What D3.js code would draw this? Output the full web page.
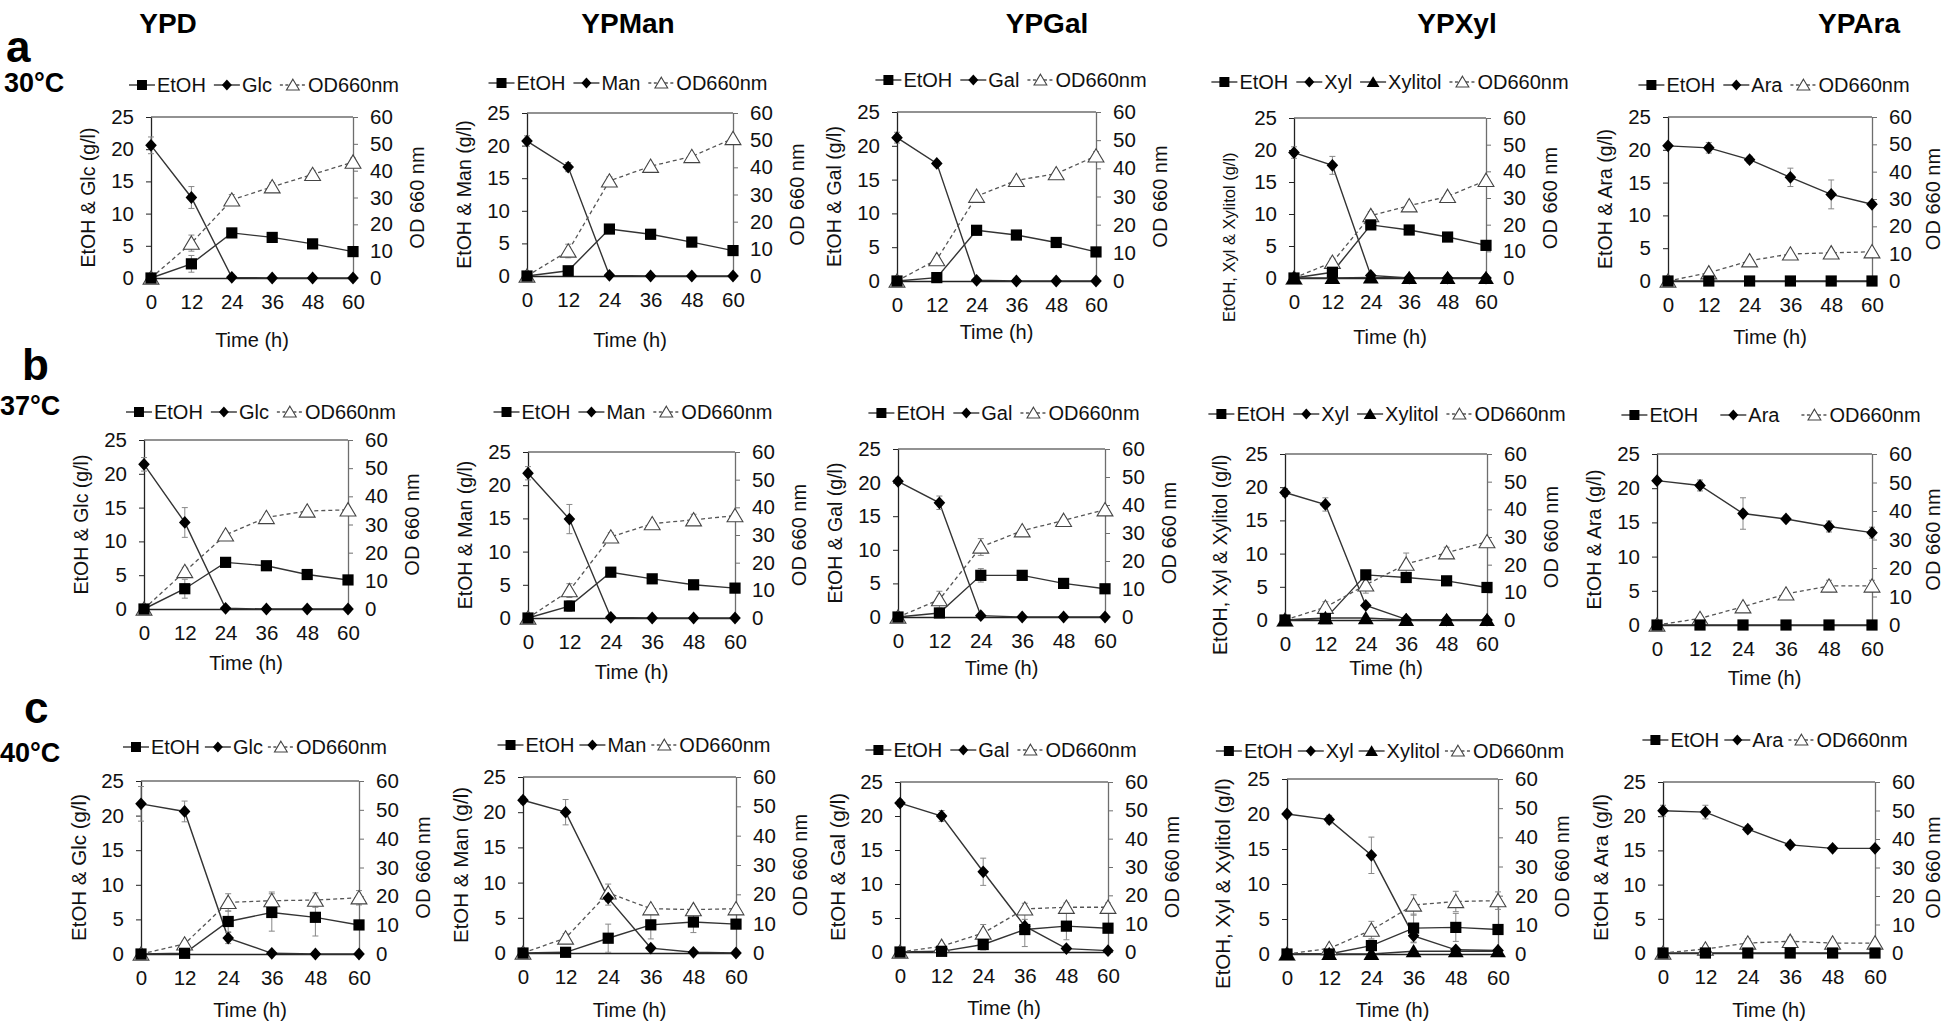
<!DOCTYPE html>
<html>
<head>
<meta charset="utf-8">
<script src="https://cdn.jsdelivr.net/npm/d3@7"></script>
<style>
  body { margin: 0; background: #fff; }
  svg text { font-family: "Liberation Sans", Arial, Helvetica, sans-serif; }
</style>
</head>
<body>
<svg id="chart" width="1946" height="1023"></svg>
<script>
// ---------------- DATA ----------------
const timePoints = [0, 12, 24, 36, 48, 60];
const leftTicks = [0, 5, 10, 15, 20, 25];
const rightTicks = [0, 10, 20, 30, 40, 50, 60];
const mediaHeaders = ["YPD", "YPMan", "YPGal", "YPXyl", "YPAra"];
const sugarNames = ["Glc", "Man", "Gal", "Xyl", "Ara"];
const rowLetters = ["a", "b", "c"];
const rowTemps = ["30°C", "37°C", "40°C"];

// 30 °C  (columns: YPD, YPMan, YPGal, YPXyl, YPAra)
const etoh30 = [
  [0, 2.2, 7.0, 6.3, 5.3, 4.1],
  [0, 0.8, 7.2, 6.4, 5.2, 3.9],
  [0, 0.5, 7.5, 6.8, 5.7, 4.3],
  [0, 0.9, 8.3, 7.5, 6.4, 5.1],
  [0, 0, 0, 0, 0, 0]
];
const sugar30 = [
  [20.6, 12.5, 0.1, 0, 0, 0],
  [20.7, 16.7, 0.1, 0, 0, 0],
  [21.2, 17.4, 0.1, 0, 0, 0],
  [19.6, 17.6, 0.4, 0, 0, 0],
  [20.6, 20.3, 18.5, 15.8, 13.2, 11.7]
];
const xylitol30 = [0, 0, 0.1, 0, 0, 0];
const od30 = [
  [0, 13.0, 29.1, 34.0, 38.6, 43.2],
  [0, 9.2, 35.0, 40.4, 44.0, 50.6],
  [0, 7.6, 30.1, 35.7, 38.1, 44.4],
  [0, 5.9, 23.4, 27.1, 30.6, 36.6],
  [0, 3.0, 7.4, 9.9, 10.3, 10.7]
];
const etoh30Err = [
  [0, 1.3, 0.3, 0.3, 0.3, 0.2],
  [0, 0.3, 0.3, 0.3, 0.3, 0.2],
  [0, 0.2, 0.3, 0.3, 0.3, 0.3],
  [0, 0.3, 0.4, 0.3, 0.3, 0.3],
  [0, 0, 0, 0, 0, 0]
];
const sugar30Err = [
  [1.3, 1.7, 0, 0, 0, 0],
  [0.8, 0.7, 0, 0, 0, 0],
  [0.8, 0.4, 0, 0, 0, 0],
  [0.9, 1.4, 0, 0, 0, 0],
  [0.3, 0.8, 0.5, 1.4, 2.2, 0.4]
];
const od30Err = [
  [0, 3.0, 2.0, 1.5, 1.5, 1.5],
  [0, 2.5, 1.5, 1.0, 1.0, 1.0],
  [0, 1.0, 1.0, 1.0, 1.0, 1.5],
  [0, 1.5, 1.5, 1.0, 1.0, 1.0],
  [0, 0.5, 0.5, 0.5, 0.5, 0.5]
];

// 37 °C
const etoh37 = [
  [0, 3.0, 6.9, 6.4, 5.1, 4.3],
  [0, 1.8, 6.9, 5.9, 5.0, 4.5],
  [0, 0.6, 6.2, 6.2, 5.0, 4.2],
  [0, 0.2, 6.8, 6.4, 5.9, 4.9],
  [0, 0, 0, 0, 0, 0]
];
const sugar37 = [
  [21.4, 12.8, 0.1, 0, 0, 0],
  [21.8, 14.9, 0.1, 0, 0, 0],
  [20.2, 17.0, 0.2, 0, 0, 0],
  [19.2, 17.4, 2.2, 0.1, 0, 0],
  [21.1, 20.4, 16.3, 15.5, 14.4, 13.5]
];
const xylitol37 = [0, 0.3, 0.3, 0, 0, 0];
const od37 = [
  [0, 13.3, 26.3, 32.5, 34.8, 35.2],
  [0, 9.9, 29.3, 34.1, 35.5, 37.0],
  [0, 6.2, 25.0, 30.8, 34.5, 38.3],
  [0, 4.6, 12.7, 20.2, 24.3, 28.3],
  [0, 2.3, 6.4, 10.9, 13.7, 13.7]
];
const etoh37Err = [
  [0, 1.4, 0.3, 0.3, 0.3, 0.3],
  [0, 0.8, 0.3, 0.3, 0.3, 0.3],
  [0, 0.3, 1.0, 0.3, 0.3, 0.3],
  [0, 0.2, 0.5, 0.6, 0.3, 0.3],
  [0, 0, 0, 0, 0, 0]
];
const sugar37Err = [
  [1.0, 2.2, 0, 0, 0, 0],
  [1.0, 2.2, 0, 0, 0, 0],
  [0.5, 1.0, 0, 0, 0, 0],
  [0.6, 1.0, 0.3, 0, 0, 0],
  [0.3, 0.8, 2.3, 0.4, 0.8, 0.8]
];
const od37Err = [
  [0, 1.5, 1.0, 1.0, 1.0, 1.0],
  [0, 2.5, 1.5, 1.0, 2.0, 1.0],
  [0, 3.0, 3.0, 1.0, 1.0, 1.0],
  [0, 2.0, 3.0, 4.0, 2.0, 1.0],
  [0, 0.5, 1.0, 1.0, 2.0, 2.0]
];

// 40 °C
const etoh40 = [
  [0, 0.1, 4.7, 6.0, 5.3, 4.2],
  [0, 0.1, 2.1, 4.0, 4.4, 4.1],
  [0, 0.1, 1.1, 3.3, 3.8, 3.5],
  [0, 0, 1.2, 3.7, 3.8, 3.5],
  [0, 0, 0, 0, 0, 0]
];
const sugar40 = [
  [21.7, 20.6, 2.3, 0.1, 0, 0],
  [21.7, 20.0, 7.8, 0.7, 0.1, 0],
  [21.9, 20.0, 11.8, 3.8, 0.5, 0.2],
  [20.0, 19.2, 14.1, 2.6, 0.6, 0.5],
  [20.8, 20.6, 18.1, 15.8, 15.3, 15.3]
];
const xylitol40 = [0, 0, 0, 0.4, 0.4, 0.4];
const od40 = [
  [0, 3.5, 17.9, 18.5, 18.7, 19.5],
  [0, 5.1, 20.5, 15.1, 14.8, 15.1],
  [0, 2.0, 6.7, 15.2, 15.8, 15.8],
  [0, 1.9, 8.2, 16.8, 18.0, 18.3],
  [0, 1.4, 3.5, 4.1, 3.5, 3.5]
];
const etoh40Err = [
  [0, 0.2, 1.5, 2.7, 2.7, 0.6],
  [0, 0.2, 2.0, 2.0, 1.5, 0.6],
  [0, 0.2, 0.8, 2.5, 2.0, 0.5],
  [0, 0, 0.8, 2.0, 2.0, 0.5],
  [0, 0, 0, 0, 0, 0]
];
const sugar40Err = [
  [2.5, 1.5, 0.8, 0, 0, 0],
  [0.5, 1.8, 1.0, 0.3, 0, 0],
  [0.5, 0.8, 2.0, 1.0, 0.3, 0],
  [0.4, 0.6, 2.6, 1.0, 0.3, 0.3],
  [0.8, 1.0, 0.5, 0.4, 0.4, 0.4]
];
const od40Err = [
  [0, 1.0, 3.0, 3.0, 2.5, 2.5],
  [0, 1.5, 3.0, 1.0, 1.0, 1.0],
  [0, 1.0, 3.0, 2.0, 1.5, 1.5],
  [0, 1.0, 3.0, 3.5, 3.5, 3.0],
  [0, 0.5, 1.5, 1.5, 1.0, 1.0]
];

// ---------------- LAYOUT ----------------
const plotBoxes = [
  [[151,117,353,278],[527,113,733,276],[897,112,1096,281],[1294,118,1486,278],[1668,117,1872,281]],
  [[144,440,348,609],[528,452,735,618],[898,449,1105,617],[1285,454,1487,620],[1657,454,1872,625]],
  [[141,781,359,954],[523,777,736,953],[900,782,1108,952],[1287,779,1498,954],[1663,782,1875,953]]
];
const legendPos = [
  [[264,85],[628,83],[1011,80],[1390,82],[1774,85]],
  [[261,412],[633,412],[1004,413],[1387,414],[1771,415]],
  [[255,747],[634,745],[1001,750],[1390,751],[1775,740]]
];
const legendGaps = [[8,8,8,8,8],[8,8,8,8,22],[5,5,8,5,5]];
const timeTitleY = [[340,340,332,337,337],[663,672,668,668,678],[1010,1010,1008,1010,1010]];
const headerX = [168, 628, 1047, 1457, 1859];

const rowsData = [
  {etoh: etoh30, sugar: sugar30, xylitol: xylitol30, od: od30, etohErr: etoh30Err, sugarErr: sugar30Err, odErr: od30Err},
  {etoh: etoh37, sugar: sugar37, xylitol: xylitol37, od: od37, etohErr: etoh37Err, sugarErr: sugar37Err, odErr: od37Err},
  {etoh: etoh40, sugar: sugar40, xylitol: xylitol40, od: od40, etohErr: etoh40Err, sugarErr: sugar40Err, odErr: od40Err}
];

// ---------------- DRAW ----------------
const svg = d3.select("#chart");
svg.append("rect").attr("width", 1946).attr("height", 1023).attr("fill", "#fff");

function markerPath(type, s) {
  if (type === "square") return `M${-s},${-s}H${s}V${s}H${-s}Z`;
  if (type === "diamond") return `M0,${-s * 1.1}L${s},0L0,${s * 1.1}L${-s},0Z`;
  return `M0,${-s}L${s * 1.1},${s * 0.85}L${-s * 1.1},${s * 0.85}Z`;
}
function markerSize(type) {
  if (type === "square") return 5.6;
  if (type === "diamond") return 5.8;
  return 7.2;
}
function styleMarker(sel, type) {
  if (type === "triOpen") sel.attr("fill", "#fff").attr("stroke", "#444").attr("stroke-width", 1.1);
  else sel.attr("fill", "#000").attr("stroke", "none");
}

function drawPanel(r, c) {
  const [L, T, R, B] = plotBoxes[r][c];
  const rd = rowsData[r];
  const g = svg.append("g");
  const x = d3.scaleLinear().domain([0, 60]).range([L, R]);
  const yL = d3.scaleLinear().domain([0, 25]).range([B, T]);
  const yR = d3.scaleLinear().domain([0, 60]).range([B, T]);

  const series = [
    {name: "EtOH", values: rd.etoh[c], err: rd.etohErr[c], marker: "square", y: yL, dashed: false},
    {name: sugarNames[c], values: rd.sugar[c], err: rd.sugarErr[c], marker: "diamond", y: yL, dashed: false}
  ];
  if (c === 3) series.push({name: "Xylitol", values: rd.xylitol, err: null, marker: "triFilled", y: yL, dashed: false});
  series.push({name: "OD660nm", values: rd.od[c], err: rd.odErr[c], marker: "triOpen", y: yR, dashed: true});

  // frame top
  g.append("line").attr("x1", L).attr("x2", R).attr("y1", T).attr("y2", T)
    .attr("stroke", "#6e6e6e").attr("stroke-width", 1.3);

  const fs = 20.5;
  const styleAxis = (a, col) => {
    a.selectAll("text").attr("font-size", fs).attr("fill", "#111");
    a.selectAll("path.domain").attr("stroke", col).attr("stroke-width", 1.3);
    a.selectAll(".tick line").attr("stroke", col).attr("stroke-width", 1);
  };
  const aR = g.append("g").attr("transform", `translate(${R},0)`)
    .call(d3.axisRight(yR).tickValues(rightTicks).tickSize(5).tickSizeOuter(0).tickPadding(12));
  styleAxis(aR, "#6e6e6e");
  const aB = g.append("g").attr("transform", `translate(0,${B})`)
    .call(d3.axisBottom(x).tickValues(timePoints).tickSize(0).tickSizeOuter(0).tickPadding(16));
  styleAxis(aB, "#222");
  const aL = g.append("g").attr("transform", `translate(${L},0)`)
    .call(d3.axisLeft(yL).tickValues(leftTicks).tickSize(5).tickSizeOuter(0).tickPadding(12));
  styleAxis(aL, "#222");

  // axis titles
  const midY = (T + B) / 2;
  const leftTitle = c === 3 ? "EtOH, Xyl & Xylitol (g/l)" : `EtOH & ${sugarNames[c]} (g/l)`;
  const ltFs = r === 2 ? 20.5 : (c === 3 && r === 0 ? 16.5 : 19.5);
  const lt = g.append("text").attr("font-size", ltFs).attr("fill", "#111")
    .attr("dominant-baseline", "central").text(leftTitle);
  if (c === 3) {
    const endY = r === 0 ? B + 44 : B + 35;
    lt.attr("text-anchor", "start").attr("transform", `translate(${L - 65},${endY}) rotate(-90)`);
  } else {
    lt.attr("text-anchor", "middle").attr("transform", `translate(${L - 63},${midY}) rotate(-90)`);
  }
  const rtX = Math.min(R + 64, 1933);
  g.append("text").attr("font-size", 20).attr("fill", "#111")
    .attr("dominant-baseline", "central").attr("text-anchor", "middle")
    .attr("transform", `translate(${rtX},${midY}) rotate(-90)`).text("OD 660 nm");
  g.append("text").attr("font-size", 20).attr("fill", "#111").attr("text-anchor", "middle")
    .attr("dominant-baseline", "central")
    .attr("x", (L + R) / 2).attr("y", timeTitleY[r][c]).text("Time (h)");

  // lines
  series.forEach(s => {
    const line = d3.line().x((d, i) => x(timePoints[i])).y(d => s.y(d));
    g.append("path").datum(s.values).attr("d", line).attr("fill", "none")
      .attr("stroke", s.dashed ? "#555" : "#333").attr("stroke-width", s.dashed ? 1.3 : 1.4)
      .attr("stroke-dasharray", s.dashed ? "4,3" : null);
  });
  // error bars
  series.forEach(s => {
    if (!s.err) return;
    s.values.forEach((v, i) => {
      const e = s.err[i];
      if (!e) return;
      const xx = x(timePoints[i]);
      const y1 = s.y(Math.max(0, v - e)), y2 = s.y(v + e);
      g.append("line").attr("x1", xx).attr("x2", xx).attr("y1", y1).attr("y2", y2)
        .attr("stroke", "#888").attr("stroke-width", 1);
      [y1, y2].forEach(yy => g.append("line").attr("x1", xx - 3).attr("x2", xx + 3)
        .attr("y1", yy).attr("y2", yy).attr("stroke", "#888").attr("stroke-width", 1));
    });
  });
  // markers (OD first, then the others on top)
  const order = [series[series.length - 1], ...series.slice(0, series.length - 1)];
  order.forEach(s => {
    const m = g.append("g").selectAll("path").data(s.values).join("path")
      .attr("transform", (d, i) => `translate(${x(timePoints[i])},${s.y(d)})`)
      .attr("d", markerPath(s.marker, markerSize(s.marker)));
    styleMarker(m, s.marker);
  });

  // legend
  const [lcx, lcy] = legendPos[r][c];
  const gap = legendGaps[r][c];
  const lg = g.append("g");
  let cur = 0;
  series.forEach((s, k) => {
    const it = lg.append("g").attr("transform", `translate(${cur},0)`);
    it.append("line").attr("x1", 0).attr("x2", 26).attr("y1", 0).attr("y2", 0)
      .attr("stroke", s.dashed ? "#555" : "#222").attr("stroke-width", 1.3)
      .attr("stroke-dasharray", s.dashed ? "3,2.5" : null);
    const mk = it.append("path").attr("transform", "translate(13,0)")
      .attr("d", markerPath(s.marker, s.marker === "triOpen" || s.marker === "triFilled" ? 5.8 : 5));
    styleMarker(mk, s.marker);
    const t = it.append("text").attr("x", 28).attr("y", 0).attr("dominant-baseline", "central")
      .attr("font-size", 20).attr("fill", "#111").text(s.name);
    const w = t.node().getComputedTextLength();
    cur += 28 + w + gap;
  });
  const total = cur - gap;
  lg.attr("transform", `translate(${lcx - total / 2},${lcy})`);
}

for (let r = 0; r < 3; r++) for (let c = 0; c < 5; c++) drawPanel(r, c);

// column headers
mediaHeaders.forEach((h, i) => {
  svg.append("text").attr("x", headerX[i]).attr("y", 33).attr("text-anchor", "middle")
    .attr("font-size", 28).attr("font-weight", "bold").attr("fill", "#000").text(h);
});
// row labels
const letterPos = [[6, 62], [22, 380], [24, 723]];
const tempPos = [[4, 92], [0, 415], [0, 762]];
rowLetters.forEach((l, i) => {
  svg.append("text").attr("x", letterPos[i][0]).attr("y", letterPos[i][1])
    .attr("font-size", 44).attr("font-weight", "bold").attr("fill", "#000").text(l);
  svg.append("text").attr("x", tempPos[i][0]).attr("y", tempPos[i][1])
    .attr("font-size", 27).attr("font-weight", "bold").attr("fill", "#000").text(rowTemps[i]);
});
</script>
</body>
</html>
